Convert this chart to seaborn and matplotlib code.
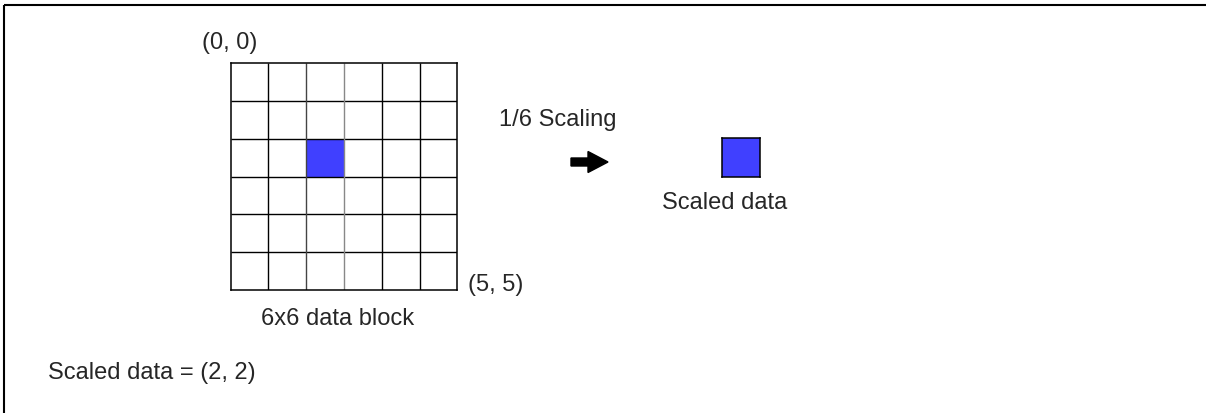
import numpy as np
import matplotlib
matplotlib.use('Agg')
import matplotlib.pyplot as plt
from matplotlib.colors import ListedColormap
import seaborn as sns

# data: a 6x6 block with one selected cell, scaled down by 1/6
block_size = 6
selected_cell = (2, 2)  # (row, col)
corner_labels = ['(0, 0)', '(5, 5)']
block_label = '6x6 data block'
scaling_label = '1/6 Scaling'
scaled_label = 'Scaled data'
result_label = 'Scaled data = ({}, {})'.format(*selected_cell)

block = np.zeros((block_size, block_size))
block[selected_cell] = 1
scaled = np.array([[1]])

sns.set_theme(style='white')
plt.rcParams['font.family'] = ['Liberation Sans', 'DejaVu Sans']

W, H = 1206, 413
fig = plt.figure(figsize=(W / 100, H / 100), dpi=100)
fig.patch.set_facecolor('white')

# background axes in pixel units
ax0 = fig.add_axes([0, 0, 1, 1])
ax0.set_xlim(0, W)
ax0.set_ylim(H, 0)
ax0.axis('off')


def px_axes(x0, y0, x1, y1):
    return fig.add_axes([x0 / W, 1 - y1 / H, (x1 - x0) / W, (y1 - y0) / H])


cmap = ListedColormap(['white', '#4040ff'])

# 6x6 grid
ax1 = px_axes(230.7, 63.3, 457.3, 290)
sns.heatmap(block, ax=ax1, cmap=cmap, vmin=0, vmax=1, cbar=False,
            xticklabels=False, yticklabels=False)
inner = np.arange(1, block_size)
line_cols = ['black', '#444444', '#888888', 'black', 'black']
ax1.hlines(inner, 0, block_size, colors='black', lw=1.0)
ax1.vlines(inner, 0, block_size, colors=line_cols, lw=1.0)
for s in ax1.spines.values():
    s.set_visible(True)
    s.set_color('black')
    s.set_linewidth(1.1)

# scaled cell
ax2 = px_axes(722, 138, 760, 177)
sns.heatmap(scaled, ax=ax2, cmap=cmap, vmin=0, vmax=1, cbar=False,
            xticklabels=False, yticklabels=False)
for s in ax2.spines.values():
    s.set_visible(True)
    s.set_color('black')
    s.set_linewidth(1.1)

fs = 17
ax0.text(202, 42.5, corner_labels[0], fontsize=fs, ha='left', va='center')
ax0.text(468, 285, corner_labels[1], fontsize=fs, ha='left', va='center')
ax0.text(338, 319, block_label, fontsize=fs, ha='center', va='center')
ax0.text(48, 373, result_label, fontsize=fs, ha='left', va='center')
ax0.text(499, 120, scaling_label, fontsize=fs, ha='left', va='center')
ax0.text(725, 203, scaled_label, fontsize=fs, ha='center', va='center')

# arrow
ax0.arrow(571, 162, 37, 0, width=8, head_width=21, head_length=20,
          length_includes_head=True, color='black')

# frame (top and left edges visible)
ax0.plot([3.5, 3.5], [H, 5], color='black', lw=1.5, solid_capstyle='butt')
ax0.plot([3.5, W], [5, 5], color='black', lw=1.5, solid_capstyle='butt')

fig.savefig('out.png', dpi=100, facecolor='white')
